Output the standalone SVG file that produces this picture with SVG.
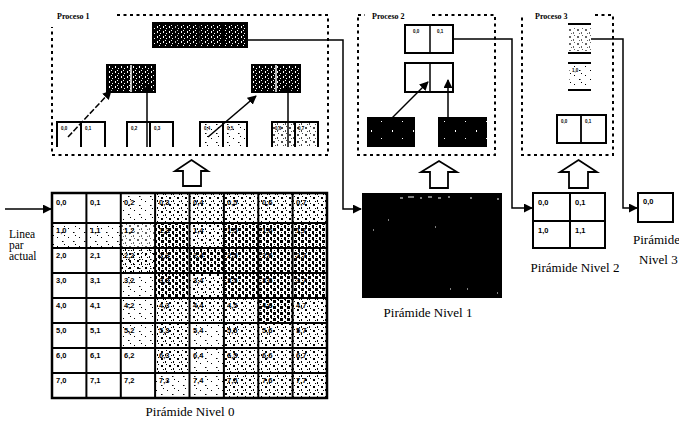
<svg xmlns="http://www.w3.org/2000/svg" width="679" height="424" viewBox="0 0 679 424">
<style>
.dash{fill:none;stroke:#000;stroke-width:2;stroke-dasharray:3,3.5}
.ln{fill:none;stroke:#000;stroke-width:1.5}
.bx{fill:#fff;stroke:#000;stroke-width:2}
.cl{font-family:"Liberation Sans",Arial,sans-serif;font-weight:bold;font-size:7.5px;fill:#000}
.tiny{font-family:"Liberation Sans",Arial,sans-serif;font-weight:bold;font-size:4.5px;fill:#000}
.pl{font-family:"Liberation Serif","Times New Roman",serif;font-weight:bold;font-size:8px;fill:#000}
.cap{font-family:"Liberation Serif","Times New Roman",serif;font-size:13px;fill:#000}
.hol{fill:#fff;stroke:#000;stroke-width:1.8;stroke-linejoin:miter}
</style>
<defs>
<marker id="ah" viewBox="0 0 10 10" refX="9" refY="5" markerWidth="6" markerHeight="6" orient="auto"><path d="M0,0 L10,5 L0,10 z" fill="#000"/></marker>
<pattern id="pL" width="11" height="9" patternUnits="userSpaceOnUse"><rect x="2" y="3" width="1" height="1" fill="#000"/><rect x="7" y="7" width="1.5" height="1" fill="#000"/><rect x="9" y="1" width="1" height="1" fill="#000"/></pattern>
<pattern id="pM" width="8" height="7" patternUnits="userSpaceOnUse"><rect x="1" y="1" width="2" height="2" fill="#000"/><rect x="5" y="4" width="1" height="2" fill="#000"/><rect x="3" y="5" width="1" height="1" fill="#000"/><rect x="6" y="0" width="1" height="1" fill="#000"/></pattern>
<pattern id="pH" width="7" height="6" patternUnits="userSpaceOnUse"><rect x="0" y="0" width="3" height="3" fill="#000"/><rect x="4" y="3" width="2" height="3" fill="#000"/><rect x="5" y="0" width="1" height="1" fill="#000"/><rect x="1" y="4" width="1" height="1" fill="#000"/></pattern>
<pattern id="pD" width="6" height="5" patternUnits="userSpaceOnUse"><rect width="6" height="5" fill="#000"/><rect x="1" y="1" width="1" height="2" fill="#fff"/><rect x="4" y="3" width="1" height="1" fill="#fff"/><rect x="3" y="0" width="1" height="1" fill="#fff"/></pattern>
<pattern id="pB" width="21" height="17" patternUnits="userSpaceOnUse"><rect width="21" height="17" fill="#000"/><rect x="3" y="2" width="1" height="1" fill="#fff"/><rect x="14" y="11" width="1" height="2" fill="#fff"/></pattern>
</defs>
<rect width="679" height="424" fill="#fff"/>

<g id="proceso1">
<path class="dash" d="M117,15 H328 V155 H52 V27"/>
<text class="pl" x="57" y="19">Proceso 1</text>
<g id="p1-top">
<rect x="153" y="23" width="94" height="24" fill="url(#pD)" stroke="#000" stroke-width="2"/>
<path class="ln" d="M176.5,23 V47 M200,23 V47 M223.5,23 V47" stroke="#fff"/>
</g>
<g id="p1-mid-left">
<rect x="107" y="65" width="48" height="27" fill="url(#pD)" stroke="#000" stroke-width="2"/>
<line x1="131" y1="65" x2="131" y2="92" stroke="#fff" stroke-width="1.5"/>
</g>
<g id="p1-mid-right">
<rect x="252" y="65" width="48" height="27" fill="url(#pD)" stroke="#000" stroke-width="2"/>
<line x1="276" y1="65" x2="276" y2="92" stroke="#fff" stroke-width="1.5"/>
</g>
<g id="p1-b1">
<path d="M57,147 V122 H105 V147 M81,122 V147" fill="none" stroke="#000" stroke-width="2"/>
<text class="tiny" x="61" y="130">0,0</text><text class="tiny" x="85" y="130">0,1</text>
</g>
<g id="p1-b2">
<path d="M127,147 V122 H173 V147 M150,122 V147" fill="none" stroke="#000" stroke-width="2"/>
<text class="tiny" x="131" y="130">0,2</text><text class="tiny" x="154" y="130">0,3</text>
</g>
<g id="p1-b3">
<rect x="201" y="123" width="45" height="24" fill="url(#pL)"/>
<path d="M200,147 V122 H247 V147 M223,122 V147" fill="none" stroke="#000" stroke-width="2"/>
<text class="tiny" x="204" y="130">0,4</text><text class="tiny" x="227" y="130">0,5</text>
</g>
<g id="p1-b4">
<rect x="273" y="123" width="44" height="24" fill="url(#pM)" opacity="0.7"/>
<path d="M272,147 V122 H318 V147 M295,122 V147" fill="none" stroke="#000" stroke-width="2"/>
<text class="tiny" x="275" y="130">0,6</text><text class="tiny" x="298" y="130">0,7</text>
</g>
</g>

<g id="proceso2">
<path class="dash" d="M358,15 H365 M432,15 H495 V155 H358 V15"/>
<text class="pl" x="372" y="19">Proceso 2</text>
<g id="p2-top">
<rect class="bx" x="405" y="25" width="48" height="28" stroke-width="1.5"/>
<line x1="430" y1="25" x2="430" y2="53" stroke="#000" stroke-width="1.5"/>
<text class="tiny" x="413" y="33">0,0</text><text class="tiny" x="437" y="33">0,1</text>
</g>
<g id="p2-mid">
<rect class="bx" x="405" y="63" width="48" height="29" stroke-width="1.5"/>
<line x1="430" y1="63" x2="430" y2="92" stroke="#000" stroke-width="1.5"/>
</g>
<g id="p2-b1"><rect x="367" y="117" width="48" height="30" fill="url(#pB)"/></g>
<g id="p2-b2"><rect x="438" y="117" width="49" height="30" fill="url(#pB)"/></g>
</g>

<g id="proceso3">
<path class="dash" d="M595,15 H613 V155 H522 V15"/>
<text class="pl" x="535" y="19">Proceso 3</text>
<g id="p3-top">
<rect x="569" y="27" width="22" height="24" fill="url(#pM)" opacity="0.6"/>
<path d="M568,24 H591 M568,53 H591" stroke="#000" stroke-width="2"/>
</g>
<g id="p3-mid">
<rect x="569" y="66" width="22" height="22" fill="url(#pL)"/>
<path d="M568,63 H591 M568,90 H591" stroke="#000" stroke-width="2"/>
<text class="tiny" x="572" y="72">1,0</text>
</g>
<g id="p3-bot">
<rect class="bx" x="557" y="115" width="49" height="28" stroke-width="1.8"/>
<line x1="581" y1="115" x2="581" y2="143" stroke="#000" stroke-width="1.8"/>
<text class="tiny" x="561" y="123">0,0</text><text class="tiny" x="585" y="123">0,1</text>
</g>
</g>

<g id="up-arrows">
<polygon class="hol" points="191.5,160 208,171 201,171 201,186 183,186 183,171 175,171"/>
<polygon class="hol" points="439,161 457,172 448,172 448,188 430,188 430,172 421,172"/>
<polygon class="hol" points="578.5,160 597,172 588,172 588,188 569,188 569,172 560,172"/>
</g>

<g id="nivel0">
<g fill="url(#pL)">
<rect x="121" y="193" width="34" height="30"/><rect x="52" y="223" width="69" height="25" fill="url(#pL)"/>
<rect x="121" y="248" width="34" height="75"/><rect x="121" y="298" width="34" height="50"/>
<rect x="155" y="373" width="69" height="25"/><rect x="189" y="348" width="35" height="25"/><rect x="189" y="323" width="35" height="25"/>
</g>
<g fill="url(#pM)">
<rect x="155" y="193" width="172" height="30"/>
<rect x="121" y="223" width="34" height="25" fill="url(#pM)" opacity="0.6"/>
<rect x="121" y="248" width="34" height="25"/>
<rect x="189" y="223" width="35" height="25"/><rect x="189" y="273" width="35" height="50"/>
<rect x="155" y="298" width="34" height="75"/>
<rect x="224" y="298" width="34" height="100"/><rect x="258" y="323" width="69" height="75"/>
<rect x="292" y="298" width="35" height="25"/>
</g>
<g fill="url(#pH)">
<rect x="155" y="223" width="34" height="75"/><rect x="224" y="223" width="103" height="75"/>
<rect x="189" y="248" width="35" height="25"/><rect x="258" y="298" width="34" height="25"/>
</g>
<rect x="52" y="193" width="275" height="205" fill="none" stroke="#000" stroke-width="2.5"/>
<path d="M86.4,193 V398 M120.8,193 V398 M155.1,193 V398 M189.5,193 V398 M223.9,193 V398 M258.3,193 V398 M292.6,193 V398 M52,223 H327 M52,248 H327 M52,273 H327 M52,298 H327 M52,323 H327 M52,348 H327 M52,373 H327" fill="none" stroke="#000" stroke-width="2"/>
<g class="cl">
<text x="56" y="205">0,0</text><text x="90" y="205">0,1</text><text x="124" y="205">0,2</text><text x="159" y="205">0,3</text><text x="193" y="205">0,4</text><text x="227" y="205">0,5</text><text x="262" y="205">0,6</text><text x="296" y="205">0,7</text>
<text x="56" y="233">1,0</text><text x="90" y="233">1,1</text><text x="124" y="233">1,2</text><text x="159" y="233">1,3</text><text x="193" y="233">1,4</text><text x="227" y="233">1,5</text><text x="262" y="233">1,6</text><text x="296" y="233">1,7</text>
<text x="56" y="258">2,0</text><text x="90" y="258">2,1</text><text x="124" y="258">2,2</text><text x="159" y="258">2,3</text><text x="193" y="258">2,4</text><text x="227" y="258">2,5</text><text x="262" y="258">2,6</text><text x="296" y="258">2,7</text>
<text x="56" y="283">3,0</text><text x="90" y="283">3,1</text><text x="124" y="283">3,2</text><text x="159" y="283">3,3</text><text x="193" y="283">3,4</text><text x="227" y="283">3,5</text><text x="262" y="283">3,6</text><text x="296" y="283">3,7</text>
<text x="56" y="308">4,0</text><text x="90" y="308">4,1</text><text x="124" y="308">4,2</text><text x="159" y="308">4,3</text><text x="193" y="308">4,4</text><text x="227" y="308">4,5</text><text x="262" y="308">4,6</text><text x="296" y="308">4,7</text>
<text x="56" y="333">5,0</text><text x="90" y="333">5,1</text><text x="124" y="333">5,2</text><text x="159" y="333">5,3</text><text x="193" y="333">5,4</text><text x="227" y="333">5,5</text><text x="262" y="333">5,6</text><text x="296" y="333">5,7</text>
<text x="56" y="358">6,0</text><text x="90" y="358">6,1</text><text x="124" y="358">6,2</text><text x="159" y="358">6,3</text><text x="193" y="358">6,4</text><text x="227" y="358">6,5</text><text x="262" y="358">6,6</text><text x="296" y="358">6,7</text>
<text x="56" y="383">7,0</text><text x="90" y="383">7,1</text><text x="124" y="383">7,2</text><text x="159" y="383">7,3</text><text x="193" y="383">7,4</text><text x="227" y="383">7,5</text><text x="262" y="383">7,6</text><text x="296" y="383">7,7</text>
</g>
<text class="cap" x="190" y="416" text-anchor="middle">Pirámide Nivel 0</text>
</g>

<g id="linea">
<text class="cap" x="9" y="238" style="font-size:11.5px">Linea</text>
<text class="cap" x="9" y="249" style="font-size:11.5px">par</text>
<text class="cap" x="9" y="260" style="font-size:11.5px">actual</text>
</g>

<g id="nivel1">
<rect x="362" y="193" width="140" height="105" fill="#000"/>
<path d="M400,198 h3 M408,197 h6 M420,198 h2 M428,197 h4 M438,198 h3 M448,197 h2 M470,198 h2 M497,199 h2 M388,220 h1 M373,230 h1 M435,227 h1 M450,289 h1 M467,289 h1 M497,293 h1" stroke="#fff" stroke-width="1"/>
<text class="cap" x="428" y="317" text-anchor="middle">Pirámide Nivel 1</text>
</g>

<g id="nivel2">
<rect class="bx" x="533" y="193" width="72" height="55"/>
<path d="M570,193 V248 M533,221 H605" stroke="#000" stroke-width="2"/>
<text class="cl" x="538" y="205">0,0</text><text class="cl" x="575" y="205">0,1</text>
<text class="cl" x="538" y="233">1,0</text><text class="cl" x="575" y="233">1,1</text>
<text class="cap" x="575" y="272" text-anchor="middle">Pirámide Nivel 2</text>
</g>

<g id="nivel3">
<rect class="bx" x="638" y="193" width="35" height="29"/>
<text class="cl" x="643" y="204">0,0</text>
<text class="cap" x="633" y="244">Pirámide</text>
<text class="cap" x="639" y="264">Nivel 3</text>
</g>

<g id="connectors">
<line x1="5" y1="209" x2="51" y2="209" class="ln" marker-end="url(#ah)"/>
<polyline points="247,40 343,40 343,209 361,209" class="ln" marker-end="url(#ah)"/>
<polyline points="453,39 512,39 512,208 532,208" class="ln" marker-end="url(#ah)"/>
<polyline points="591,39 623,39 623,208 637,208" class="ln" marker-end="url(#ah)"/>
<line x1="68" y1="137" x2="111" y2="91" class="ln" stroke-dasharray="6,2" marker-end="url(#ah)"/>
<line x1="147" y1="147" x2="147" y2="85" class="ln" marker-end="url(#ah)"/>
<line x1="208" y1="137" x2="256" y2="96" class="ln" marker-end="url(#ah)"/>
<line x1="288" y1="147" x2="288" y2="85" class="ln" marker-end="url(#ah)"/>
<line x1="392" y1="118" x2="428" y2="82" class="ln" marker-end="url(#ah)"/>
<line x1="448" y1="118" x2="448" y2="80" class="ln" marker-end="url(#ah)"/>
</g>
</svg>
